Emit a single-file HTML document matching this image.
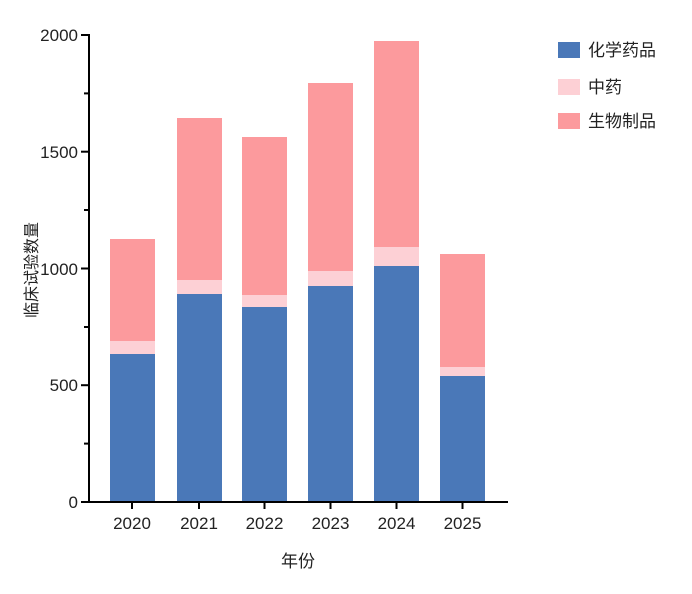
<!DOCTYPE html>
<html><head><meta charset="utf-8"><style>body{margin:0;background:#fff}</style></head><body>
<svg width="692" height="589" xmlns="http://www.w3.org/2000/svg" font-family="Liberation Sans, Noto Sans CJK SC, sans-serif">
<rect width="692" height="589" fill="#fff"/>
<g>
<rect x="110" y="239" width="45" height="102" fill="#fc9a9d"/><rect x="110" y="341" width="45" height="13" fill="#fdd0d5"/><rect x="110" y="354" width="45" height="148" fill="#4a78b8"/>
<rect x="177" y="118" width="45" height="162" fill="#fc9a9d"/><rect x="177" y="280" width="45" height="14" fill="#fdd0d5"/><rect x="177" y="294" width="45" height="208" fill="#4a78b8"/>
<rect x="242" y="137" width="45" height="158" fill="#fc9a9d"/><rect x="242" y="295" width="45" height="12" fill="#fdd0d5"/><rect x="242" y="307" width="45" height="195" fill="#4a78b8"/>
<rect x="308" y="83" width="45" height="188" fill="#fc9a9d"/><rect x="308" y="271" width="45" height="15" fill="#fdd0d5"/><rect x="308" y="286" width="45" height="216" fill="#4a78b8"/>
<rect x="374" y="41" width="45" height="206" fill="#fc9a9d"/><rect x="374" y="247" width="45" height="19" fill="#fdd0d5"/><rect x="374" y="266" width="45" height="236" fill="#4a78b8"/>
<rect x="440" y="254" width="45" height="113" fill="#fc9a9d"/><rect x="440" y="367" width="45" height="9" fill="#fdd0d5"/><rect x="440" y="376" width="45" height="126" fill="#4a78b8"/>
</g>
<line x1="89" y1="34" x2="89" y2="503" stroke="#000" stroke-width="2"/>
<line x1="88" y1="502" x2="508" y2="502" stroke="#000" stroke-width="2"/>
<g stroke="#000" stroke-width="2">
<line x1="81" y1="35" x2="89" y2="35"/><line x1="84" y1="93.4" x2="89" y2="93.4"/>
<line x1="81" y1="151.7" x2="89" y2="151.7"/><line x1="84" y1="210" x2="89" y2="210"/>
<line x1="81" y1="268.5" x2="89" y2="268.5"/><line x1="84" y1="327" x2="89" y2="327"/>
<line x1="81" y1="385.2" x2="89" y2="385.2"/><line x1="84" y1="443.6" x2="89" y2="443.6"/>
<line x1="81" y1="502" x2="89" y2="502"/>
<line x1="132" y1="502" x2="132" y2="509"/><line x1="199" y1="502" x2="199" y2="509"/>
<line x1="264.5" y1="502" x2="264.5" y2="509"/><line x1="330.5" y1="502" x2="330.5" y2="509"/>
<line x1="396.5" y1="502" x2="396.5" y2="509"/><line x1="462.5" y1="502" x2="462.5" y2="509"/>
</g>
<g font-size="17" fill="#222" text-anchor="end">
<text x="78" y="41">2000</text><text x="78" y="158">1500</text><text x="78" y="275">1000</text>
<text x="78" y="391">500</text><text x="78" y="508">0</text>
</g>
<g font-size="17" fill="#222" text-anchor="middle">
<text x="132" y="529">2020</text><text x="199" y="529">2021</text><text x="264.5" y="529">2022</text>
<text x="330.5" y="529">2023</text><text x="396.5" y="529">2024</text><text x="462.5" y="529">2025</text>
<text x="298" y="567">年份</text>
</g>
<text transform="translate(37,270) rotate(-90)" font-size="16" fill="#222" text-anchor="middle">临床试验数量</text>
<rect x="558" y="42" width="22" height="16" fill="#4a78b8"/>
<rect x="558" y="79" width="22" height="16" fill="#fdd0d5"/>
<rect x="558" y="113" width="22" height="16" fill="#fc9a9d"/>
<g font-size="17" fill="#222">
<text x="588" y="56">化学药品</text><text x="588" y="93">中药</text><text x="588" y="127">生物制品</text>
</g>
</svg>
</body></html>
